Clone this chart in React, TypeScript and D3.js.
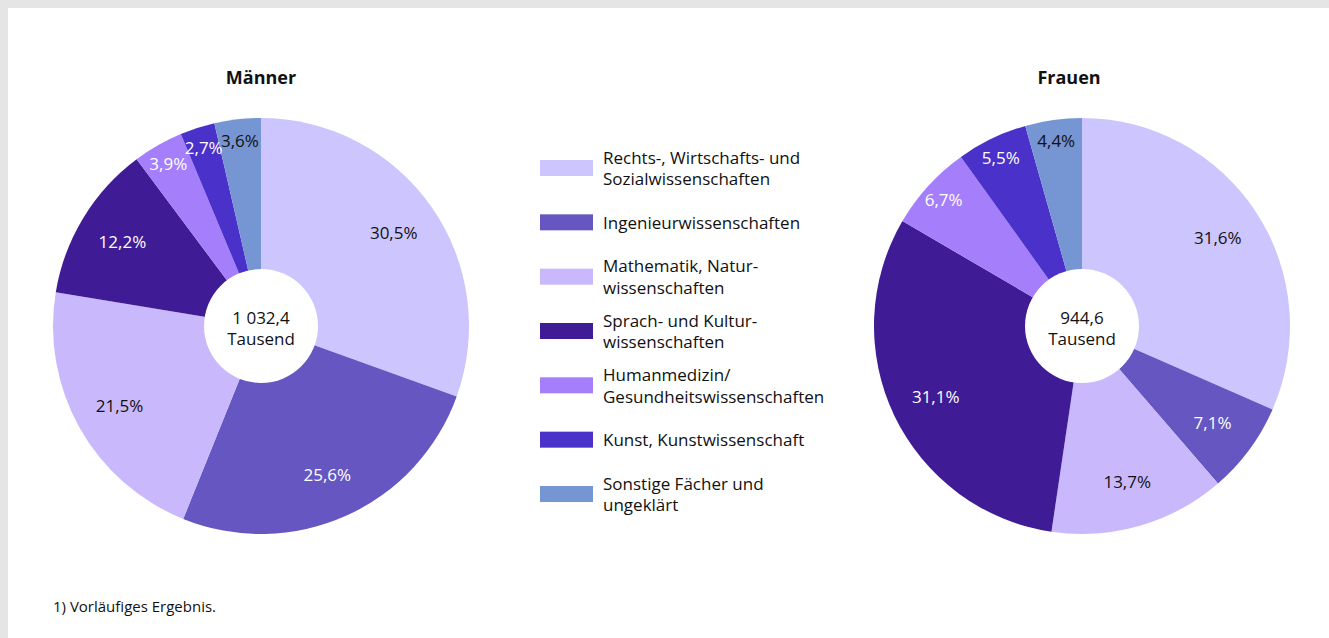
import * as d3 from 'd3'
import React from 'react'

const categories = [
  'Rechts-, Wirtschafts- und|Sozialwissenschaften',
  'Ingenieurwissenschaften',
  'Mathematik, Natur-|wissenschaften',
  'Sprach- und Kultur-|wissenschaften',
  'Humanmedizin/|Gesundheitswissenschaften',
  'Kunst, Kunstwissenschaft',
  'Sonstige Fächer und|ungeklärt',
]
const colors = ['#cdc5fe', '#6556c1', '#c9b8fc', '#401b96', '#a57efc', '#4a31c9', '#7695d3']
const labelColors = ['#111', '#fff', '#111', '#fff', '#fff', '#fff', '#111']

const maenner = [30.5, 25.6, 21.5, 12.2, 3.9, 2.7, 3.6]
const frauen = [31.6, 7.1, 13.7, 31.1, 6.7, 5.5, 4.4]
const totals = ['1 032,4', '944,6']
const titles = ['Männer', 'Frauen']

const W = 1329
const H = 638
const R = 208
const hole = 57
const font = '"Open Sans", sans-serif'

const fmt = (v: number) => v.toFixed(1).replace('.', ',') + '%'

const Pie = ({ values, cx, cy, title, titleX, total }: any) => {
  const pie = d3.pie<number>().sort(null).value(d => d)
  const arc = d3.arc<d3.PieArcDatum<number>>().innerRadius(0).outerRadius(R)
  const arcs = pie(values)
  return (
    <g>
      <text x={titleX} y={cy - 242} textAnchor='middle' fontFamily={font} fontWeight='bold' fontSize={18} fill='#111'>{title}</text>
      <g transform={`translate(${cx},${cy})`}>
        {arcs.map((a, i) => (
          <path key={i} d={arc(a) || ''} fill={colors[i]} />
        ))}
        {arcs.map((a, i) => {
          const ang = (a.startAngle + a.endAngle) / 2
          const r = a.value < 7 ? 0.9 * R : 0.78 * R
          return (
            <text key={'l' + i} x={Math.sin(ang) * r} y={-Math.cos(ang) * r} textAnchor='middle' dominantBaseline='central'
              fontFamily={font} fontSize={17} fill={labelColors[i]}>{fmt(a.value)}</text>
          )
        })}
        <circle r={hole} fill='#fff' />
        <text y={-9} textAnchor='middle' dominantBaseline='central' fontFamily={font} fontSize={17} fill='#111'>{total}</text>
        <text y={12} textAnchor='middle' dominantBaseline='central' fontFamily={font} fontSize={17} fill='#111'>Tausend</text>
      </g>
    </g>
  )
}

const App = () => {
  const legendY = d3.scalePoint<number>().domain(d3.range(categories.length)).range([168, 494])
  return (
    <svg width={W} height={H} style={{ position: 'absolute', left: 0, top: 0 }}>
      <rect width={W} height={H} fill='#e5e5e5' />
      <rect x={8} y={8} width={W - 8} height={H - 8} fill='#fff' />
      <Pie values={maenner} cx={261} cy={326} title={titles[0]} titleX={261} total={totals[0]} />
      <Pie values={frauen} cx={1082} cy={326} title={titles[1]} titleX={1069} total={totals[1]} />
      {categories.map((c, i) => {
        const lines = c.split('|')
        const y = legendY(i)!
        return (
          <g key={c}>
            <rect x={540} y={y - 8} width={53} height={16} fill={colors[i]} />
            {lines.map((l, j) => (
              <text key={j} x={603} y={y + (j - (lines.length - 1) / 2) * 21.5} dominantBaseline='central'
                fontFamily={font} fontSize={17} fill='#111'>{l}</text>
            ))}
          </g>
        )
      })}
      <text x={53} y={606} dominantBaseline='central' fontFamily={font} fontSize={15} fill='#111'>1) Vorläufiges Ergebnis.</text>
    </svg>
  )
}

export default App
